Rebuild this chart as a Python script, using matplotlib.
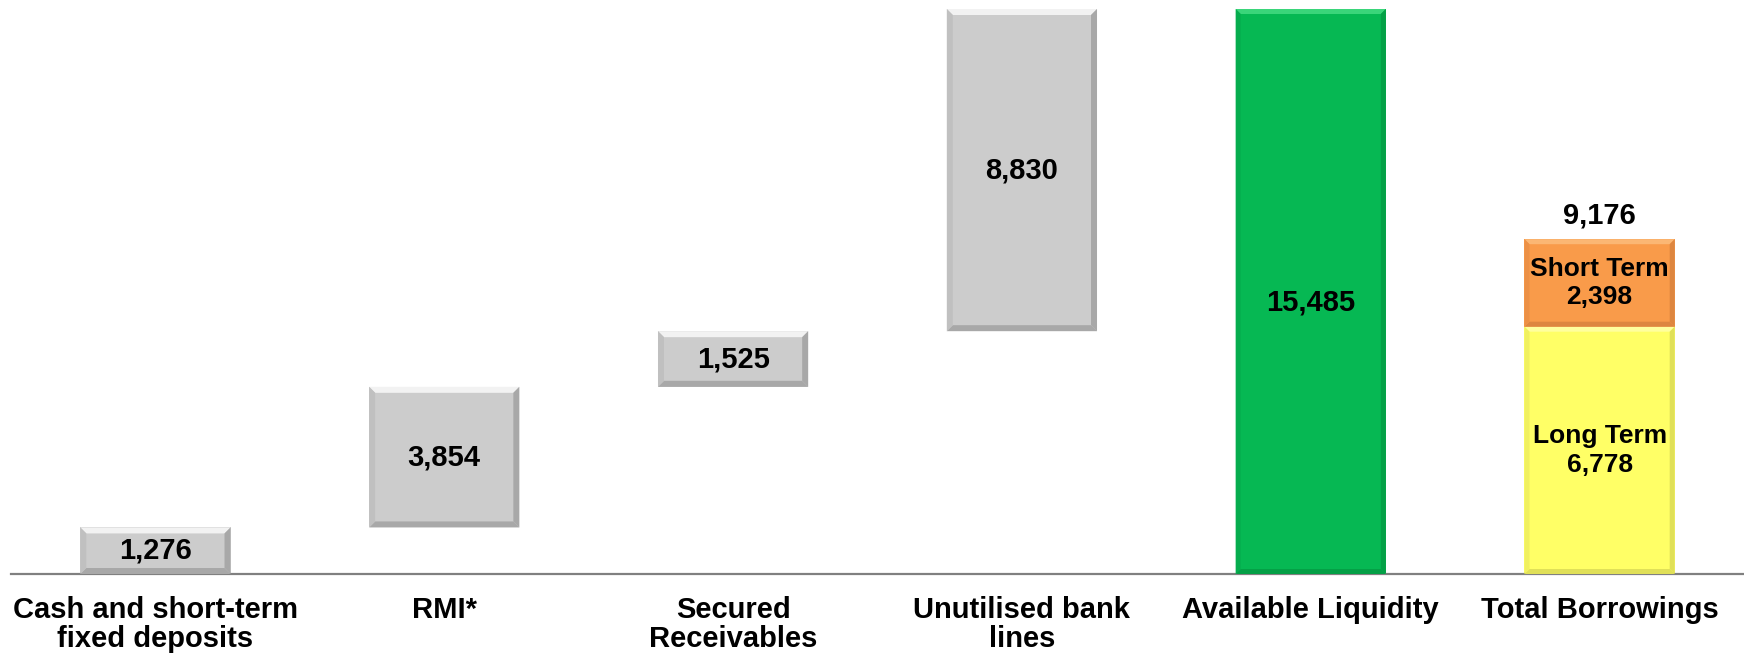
import matplotlib.pyplot as plt
from matplotlib.patches import Polygon

# data
categories = ["Cash and short-term\nfixed deposits", "RMI*", "Secured\nReceivables",
              "Unutilised bank\nlines", "Available Liquidity", "Total Borrowings"]
steps = [1276, 3854, 1525, 8830]
liquidity_total = 15485
long_term = 6778
short_term = 2398
borrow_total = 9176

gray, gray_light, gray_dark = "#cccccc", "#f2f2f2", "#a8a8a8"
green, green_light, green_dark = "#06b853", "#3ad57a", "#04a046"
orange, orange_light, orange_dark = "#f99b4a", "#fbb774", "#dd8640"
yellow, yellow_light, yellow_dark = "#ffff66", "#ffff9e", "#e0e058"

plt.rcParams["font.family"] = ["Liberation Sans", "DejaVu Sans"]
plt.rcParams["font.weight"] = "bold"

fig = plt.figure(figsize=(17.44, 6.54), dpi=100)
ax = fig.add_axes([11 / 1744, 80 / 654, 1733 / 1744, 565 / 654])
ax.set_xlim(-0.5, 5.5)
ax.set_ylim(0, liquidity_total)

width = 0.52
px_x = 6 / 1733
px_y = liquidity_total / 565


def bevel(bar, light, dark, side, size=7):
    x0, y0 = bar.get_x(), bar.get_y()
    x1, y1 = x0 + bar.get_width(), y0 + bar.get_height()
    dx, dy = size * px_x, size * px_y
    polys = [
        ([(x0, y1), (x1, y1), (x1 - dx, y1 - dy), (x0 + dx, y1 - dy)], light),
        ([(x0, y0), (x1, y0), (x1 - dx, y0 + dy), (x0 + dx, y0 + dy)], dark),
        ([(x1, y0), (x1, y1), (x1 - dx, y1 - dy), (x1 - dx, y0 + dy)], dark),
        ([(x0, y0), (x0, y1), (x0 + dx, y1 - dy), (x0 + dx, y0 + dy)], side),
    ]
    for pts, c in polys:
        ax.add_patch(Polygon(pts, closed=True, facecolor=c, edgecolor="none", zorder=3))


# waterfall steps
bottom = 0
for i, v in enumerate(steps):
    b = ax.bar(i, v, bottom=bottom, width=width, color=gray, edgecolor="none", zorder=2)[0]
    bevel(b, gray_light, gray_dark, "#c0c0c0", size=6)
    ax.text(i, bottom + v / 2, f"{v:,}", ha="center", va="center", fontsize=21,
            fontweight="bold", zorder=4)
    bottom += v

# available liquidity
b = ax.bar(4, liquidity_total, width=width, color=green, edgecolor="none", zorder=2)[0]
bevel(b, green_light, green_dark, "#05ad4e", size=5)
ax.text(4, liquidity_total / 2 - 300, f"{liquidity_total:,}", ha="center", va="center",
        fontsize=21, fontweight="bold", zorder=4)

# total borrowings
b = ax.bar(5, long_term, width=width, color=yellow, edgecolor="none", zorder=2)[0]
bevel(b, yellow_light, yellow_dark, "#f0f060", size=5)
b = ax.bar(5, short_term, bottom=long_term, width=width, color=orange, edgecolor="none", zorder=2)[0]
bevel(b, orange_light, orange_dark, "#ec9045", size=5)
ax.text(5, long_term / 2, f"Long Term\n{long_term:,}", ha="center", va="center",
        fontsize=19, fontweight="bold", linespacing=1.25, zorder=4)
ax.text(5, long_term + short_term / 2, f"Short Term\n{short_term:,}", ha="center", va="center",
        fontsize=19, fontweight="bold", linespacing=1.25, zorder=4)
ax.text(5, borrow_total + 24 * px_y, f"{borrow_total:,}", ha="center", va="center",
        fontsize=21, fontweight="bold", zorder=4)

# axis
ax.set_xticks(range(len(categories)))
ax.set_xticklabels(categories, fontsize=21, fontweight="bold", linespacing=1.03)
ax.tick_params(axis="x", length=0, pad=16)
ax.set_yticks([])
for s in ["top", "left", "right"]:
    ax.spines[s].set_visible(False)
ax.spines["bottom"].set_color("#808080")
ax.spines["bottom"].set_linewidth(1.6)
ax.set_facecolor("none")

fig.savefig("out.png", dpi=100)
